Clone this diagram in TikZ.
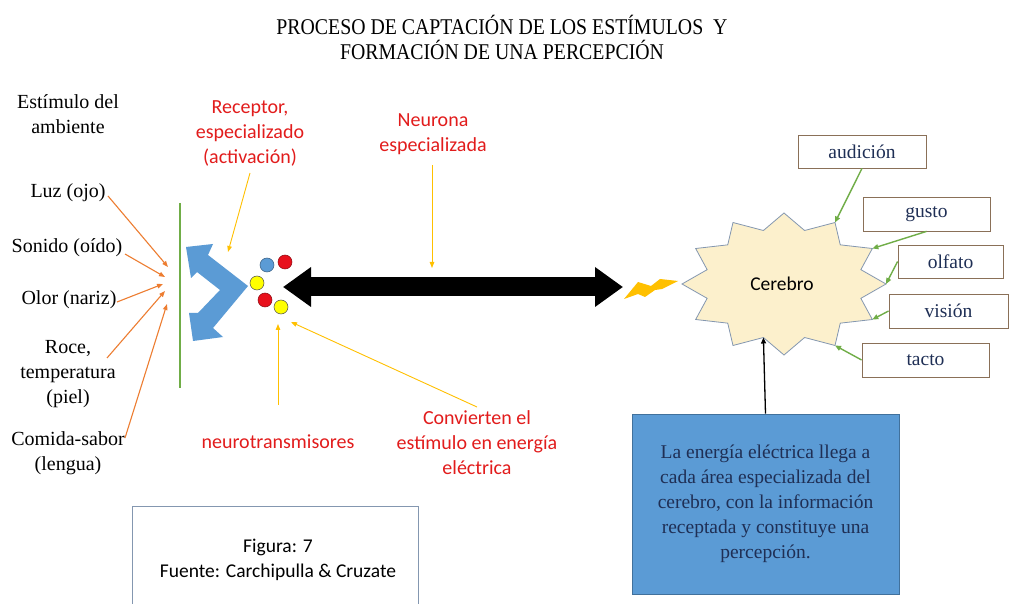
\documentclass[tikz,border=0pt]{standalone}
\usepackage{fontspec}
\usetikzlibrary{arrows.meta}
\newfontfamily\tnr{Liberation Serif}
\newfontfamily\tnrc[FakeStretch=0.88]{Liberation Serif}
\newfontfamily\calib{Carlito}
\definecolor{orangeA}{HTML}{ED7D31}
\definecolor{greenA}{HTML}{70AD47}
\definecolor{redT}{RGB}{226,28,28}
\definecolor{goldA}{HTML}{FFC000}
\definecolor{blueA}{HTML}{5B9BD5}
\definecolor{blueB}{HTML}{41719C}
\definecolor{navyT}{HTML}{1F2F55}
\definecolor{starfill}{HTML}{FCF0CC}
\definecolor{starline}{HTML}{8497B0}
\definecolor{boxline}{HTML}{8A7058}
\definecolor{redC}{HTML}{E8101C}
\definecolor{yelC}{HTML}{FFFF00}
\tikzset{
  blacklbl/.style={font=\tnr\fontsize{20}{25}\selectfont, align=center, inner sep=0pt},
  redlbl/.style={font=\calib\fontsize{20}{25}\selectfont, text=redT, align=center, inner sep=0pt},
  orarrow/.style={draw=orangeA, line width=1.1pt, -{Triangle[length=6pt,width=4.5pt]}},
  yarrow/.style={draw=goldA, line width=0.9pt, -{Triangle[length=6pt,width=4.5pt]}},
  garrow/.style={draw=greenA, line width=1.4pt, -{Triangle[length=6pt,width=5pt]}},
  sensebox/.style={draw=boxline, line width=0.8pt, fill=white, font=\tnr\fontsize{19.5}{23}\selectfont, text=navyT, minimum height=33pt, inner sep=0pt},
  dot/.style={circle, minimum size=14pt, inner sep=0pt, draw=#1!60!black, line width=0.5pt},
}
\begin{document}
\begin{tikzpicture}[x=1pt,y=-1pt]
\useasboundingbox (0,0) rectangle (1013,604);
\fill[white] (0,0) rectangle (1013,604);

% title
\node[font=\tnrc\fontsize{22.5}{25}\selectfont, align=center, inner sep=0pt] (title) at (502,37)
  {PROCESO DE CAPTACIÓN DE LOS ESTÍMULOS\ \ Y\\FORMACIÓN DE UNA PERCEPCIÓN};

% left labels
\node[blacklbl] (estim) at (68,114) {Estímulo del\\ambiente};
\node[blacklbl] (luz) at (68,193) {Luz (ojo)};
\node[blacklbl] (snd) at (67,248) {Sonido (oído)};
\node[blacklbl] (olor) at (69,300) {Olor (nariz)};
\node[blacklbl] (roce) at (68,374) {Roce,\\temperatura\\(piel)};
\node[blacklbl] (comida) at (68,453) {Comida-sabor\\(lengua)};

% green membrane
\coordinate (mtop) at (180,203);
\coordinate (mbot) at (180,388);
\draw[greenA, line width=1.6pt] (mtop) -- (mbot);

% orange arrows
\coordinate (luzS) at (108,196);
\coordinate (sndS) at (125,254);
\coordinate (olorS) at (117,302);
\coordinate (roceS) at (107,358);
\coordinate (comS) at (125,438);
\coordinate (luzT) at (168,267);
\coordinate (sndT) at (165,277);
\coordinate (olorT) at (163,284);
\coordinate (roceT) at (165,291);
\coordinate (comT) at (167,304);
\draw[orarrow] (luzS) -- (luzT);
\draw[orarrow] (sndS) -- (sndT);
\draw[orarrow] (olorS) -- (olorT);
\draw[orarrow] (roceS) -- (roceT);
\draw[orarrow] (comS) -- (comT);

% blue receptor double arrow
\fill[blueA] (248,286) -- (208,255) -- (213,244) -- (186,247) -- (191,278) -- (197,272)
  -- (220,290) -- (198,313) -- (189,313) -- (193,341) -- (223,337) -- (213,328) -- cycle;

% circles
\node[dot=blueA, fill=blueA] (c1) at (267,265) {};
\node[dot=redC, fill=redC] (c2) at (285,262) {};
\node[dot=olive, fill=yelC, draw=black!70] (c3) at (257,283) {};
\node[dot=redC, fill=redC] (c4) at (265,300) {};
\node[dot=olive, fill=yelC, draw=black!70] (c5) at (281,307) {};

% big black double arrow
\coordinate (dl) at (283,287);
\coordinate (dr) at (623,287);
\draw[line width=19pt, {Triangle[length=28pt 0 0,width=38pt 0 0]}-{Triangle[length=28pt 0 0,width=38pt 0 0]}] (dl) -- (dr);

% lightning
\fill[goldA] (624,299) -- (638,282) -- (651,286) -- (660,279) -- (678,281) -- (662,289)
  -- (655,290) -- (645,297) -- (638,294) -- cycle;

% red labels
\node[redlbl] (recep) at (250,133) {Receptor,\\especializado\\(activación)};
\node[redlbl] (neuro) at (433,134) {Neurona\\especializada};
\node[redlbl] (ntrans) at (278,442) {neurotransmisores};
\node[redlbl] (conv) at (477,443) {Convierten el\\estímulo en energía\\eléctrica};

% yellow arrows
\coordinate (recS) at (250,173);
\coordinate (recT) at (228,252);
\coordinate (neuS) at (432,165);
\coordinate (neuT) at (432,268);
\coordinate (ntS) at (278,405);
\coordinate (ntT) at (278,324);
\coordinate (cvS) at (477,407);
\coordinate (cvT) at (291,322);
\draw[yarrow] (recS) -- (recT);
\draw[yarrow] (neuS) -- (neuT);
\draw[yarrow] (ntS) -- (ntT);
\draw[yarrow] (cvS) -- (cvT);

% starburst
\draw[fill=starfill, draw=starline, line width=0.8pt]
  plot[samples at={0,15,...,345}, variable=\t]
  ({784+102*cos(\t)*(1-0.22*abs(sin(6*\t)))}, {284-71*sin(\t)*(1-0.22*abs(sin(6*\t)))}) -- cycle;
\node[font=\calib\fontsize{19.5}{23}\selectfont, inner sep=0pt] (cerebro) at (782,284) {Cerebro};
\coordinate (s60) at ({784+102*cos(60)},{284-71*sin(60)});
\coordinate (s30) at ({784+102*cos(30)},{284-71*sin(30)});
\coordinate (s0) at (886,284);
\coordinate (sm30) at ({784+102*cos(30)},{284+71*sin(30)});
\coordinate (sm60) at ({784+102*cos(60)},{284+71*sin(60)});
\coordinate (sbot) at ({784+102*cos(255)*0.78},{284-71*sin(255)*0.78});

% sense boxes
\node[sensebox, minimum width=128pt] (aud) at (862,151.5) {audición};
\node[sensebox, minimum width=127pt, minimum height=34pt] (gus) at (926.5,214) {gusto};
\node[sensebox, minimum width=105pt] (olf) at (950.5,261.5) {olfato};
\node[sensebox, minimum width=119pt, minimum height=34pt] (vis) at (948.5,311) {visión};
\node[sensebox, minimum width=127pt, minimum height=34pt] (tac) at (925.5,360) {tacto};
\draw[garrow] (aud.south) -- (s60);
\draw[garrow] (gus.south) -- (s30);
\draw[garrow] (olf.west) -- (s0);
\draw[garrow] (vis.west) -- (sm30);
\draw[garrow] (tac.west) -- (sm60);

% blue info box
\node[draw=blueB, fill=blueA, line width=0.8pt, minimum width=267pt, minimum height=180pt,
  inner sep=0pt, align=center, text=navyT, font=\tnr\fontsize{19.5}{25}\selectfont] (info) at (765.5,504)
  {La energía eléctrica llega a\\cada área especializada del\\cerebro, con la información\\receptada y constituye una\\percepción.};
\draw[line width=1.3pt, -{Triangle[length=6pt,width=5pt]}] (info.north) -- (sbot);

% figure box
\draw[starline, line width=0.8pt] (132,604) -- (132,506) -- (418,506) -- (418,604);
\node[font=\calib\fontsize{19.5}{25}\selectfont, align=center, inner sep=0pt] (fig) at (278,560)
  {Figura: 7\\Fuente: Carchipulla \& Cruzate};
\end{tikzpicture}
\end{document}
